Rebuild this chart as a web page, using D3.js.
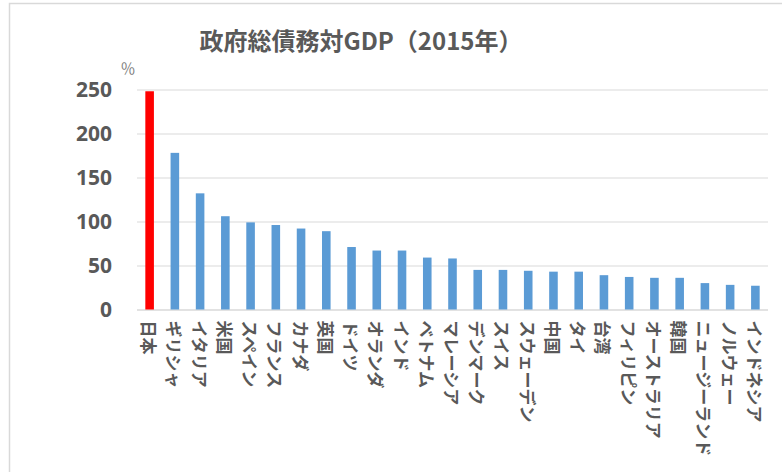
<!DOCTYPE html>
<html>
<head>
<meta charset="utf-8">
<script src="https://cdn.jsdelivr.net/npm/d3@7"></script>
<style>
  body { margin: 0; background: #fff; }
  text { font-family: "Noto Sans CJK JP", "Noto Sans", sans-serif; }
</style>
</head>
<body>
<div id="chart"></div>
<script>
// country names, left to right
var countries = ["日本", "ギリシャ", "イタリア", "米国", "スペイン", "フランス", "カナダ", "英国",
  "ドイツ", "オランダ", "インド", "ベトナム", "マレーシア", "デンマーク", "スイス", "スウェーデン",
  "中国", "タイ", "台湾", "フィリピン", "オーストラリア", "韓国", "ニュージーランド", "ノルウェー", "インドネシア"];
// general government gross debt, % of GDP
var debtRatio = [248, 178, 132, 106, 99, 96, 92, 89, 71, 67, 67, 59, 58, 45, 45, 44, 43, 43, 39, 37, 36, 36, 30, 28, 27];
var yTicks = [0, 50, 100, 150, 200, 250];
var titleText = "政府総債務対GDP（2015年）";
var unitText = "％";
var highlight = "日本";

var width = 782, height = 472;
var margin = { top: 89.5, left: 137, right: 14, bottom: 162.5 };

var svg = d3.select("#chart").append("svg")
  .attr("width", width)
  .attr("height", height);

// chart area frame (only left/top edges fall inside the picture)
svg.append("rect")
  .attr("x", 9.5).attr("y", 3.5)
  .attr("width", 900).attr("height", 600)
  .attr("fill", "none")
  .attr("stroke", "#d9d9d9")
  .attr("stroke-width", 1.5);

var x = d3.scaleBand()
  .domain(countries)
  .range([margin.left, width - margin.right])
  .paddingInner(0.66)
  .paddingOuter(0.33);

var y = d3.scaleLinear()
  .domain([0, 250])
  .range([height - margin.bottom, margin.top]);

// gridlines + tick labels
var yAxis = svg.append("g")
  .attr("transform", "translate(" + margin.left + ",0)")
  .call(d3.axisLeft(y).tickValues(yTicks).tickSize(-(width - margin.right - margin.left)).tickPadding(25));
yAxis.select(".domain").remove();
yAxis.selectAll(".tick line")
  .attr("stroke", "#d9d9d9")
  .attr("stroke-width", d => d === 0 ? 1.5 : 1);
yAxis.selectAll(".tick text")
  .attr("fill", "#595959")
  .style("font-size", "21px")
  .style("font-weight", "bold")
  .style("font-family", "'Open Sans', 'Noto Sans', sans-serif");

// bars
svg.append("g").selectAll("rect")
  .data(countries)
  .join("rect")
  .attr("x", d => x(d))
  .attr("y", (d, i) => y(debtRatio[i]))
  .attr("width", x.bandwidth())
  .attr("height", (d, i) => y(0) - y(debtRatio[i]))
  .attr("fill", d => d === highlight ? "#ff0000" : "#5b9bd5");

// category labels, rotated to read downward
var xAxis = svg.append("g")
  .attr("transform", "translate(0," + y(0) + ")")
  .call(d3.axisBottom(x).tickSize(0).tickPadding(0));
xAxis.select(".domain").remove();
xAxis.selectAll(".tick text")
  .attr("transform", "translate(0,11) rotate(90)")
  .attr("x", 0).attr("y", 0).attr("dy", null)
  .attr("text-anchor", "start")
  .attr("dominant-baseline", "central")
  .attr("fill", "#595959")
  .style("font-size", "17px")
  .style("font-weight", "bold");

// title
svg.append("text")
  .attr("x", 361).attr("y", 50)
  .attr("text-anchor", "middle")
  .attr("fill", "#595959")
  .style("font-size", "24px")
  .style("font-weight", "bold")
  .text(titleText);

// unit
svg.append("text")
  .attr("x", 128).attr("y", 67)
  .attr("text-anchor", "middle")
  .attr("dominant-baseline", "central")
  .attr("fill", "#7f7f7f")
  .style("font-size", "15px")
  .text(unitText);
</script>
</body>
</html>
